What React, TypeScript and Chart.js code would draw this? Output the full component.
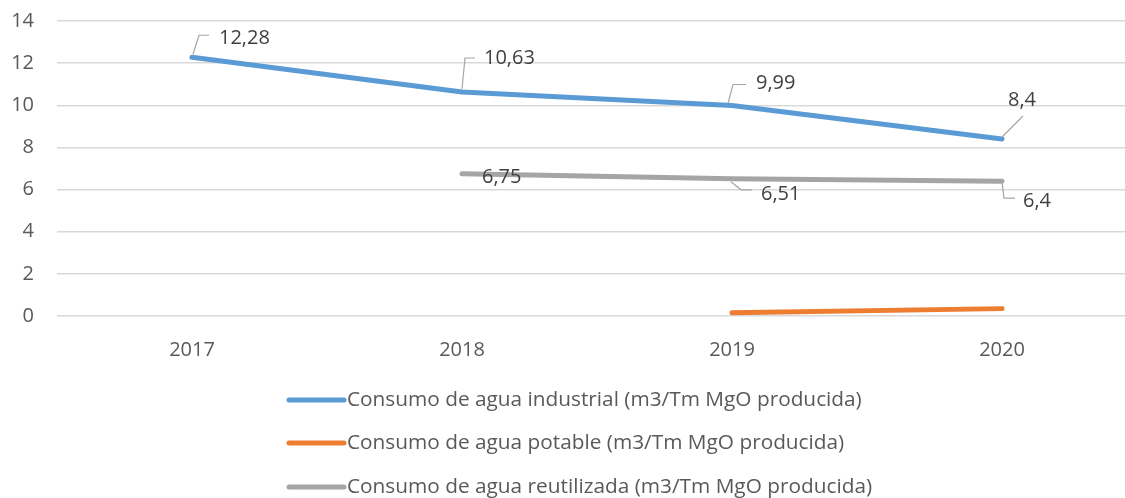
import React, { useEffect, useRef } from "react";
import { Chart, registerables } from "chart.js";

Chart.register(...registerables);

const categories = ["2017", "2018", "2019", "2020"];
const industrial = [12.28, 10.63, 9.99, 8.4];
const potable = [null, null, 0.15, 0.35];
const reutilizada = [null, 6.75, 6.51, 6.4];
const seriesNames = [
  "Consumo de agua industrial (m3/Tm MgO producida)",
  "Consumo de agua potable (m3/Tm MgO producida)",
  "Consumo de agua reutilizada (m3/Tm MgO producida)",
];
const seriesColors = ["#5b9bd5", "#ed7d31", "#a5a5a5"];
const industrialLabels = ["12,28", "10,63", "9,99", "8,4"];
const reutilizadaLabels = [null, "6,75", "6,51", "6,4"];
const yTicks = [0, 2, 4, 6, 8, 10, 12, 14];

const FONT = "'Open Sans', 'Liberation Sans', Arial, sans-serif";

// label placement styles: [dataset, index, dx, dy, leader]
const labelPlacement: Array<[number, number, number, number, number[][]]> = [
  [0, 0, 27, -19, [[1, -3], [7, -22], [17, -22]]],
  [0, 1, 22, -34, [[0, -3], [3, -34], [13, -34]]],
  [0, 2, 24, -22, [[-4, -2], [1, -21], [14, -21]]],
  [0, 3, 6, -39, [[0, -2], [21, -23]]],
  [2, 1, 20, 4, []],
  [2, 2, 29, 15, [[-1, 3], [9, 11], [20, 11]]],
  [2, 3, 21, 20, [[0, 1], [2, 17], [13, 17]]],
];

const labelPlugin = {
  id: "dataLabels",
  afterDatasetsDraw(chart: any) {
    const ctx = chart.ctx;
    const texts = [industrialLabels, potable.map(() => null), reutilizadaLabels];
    ctx.save();
    for (const [ds, i, dx, dy, leader] of labelPlacement) {
      const el = chart.getDatasetMeta(ds).data[i];
      const t = texts[ds][i];
      if (!el || !t) continue;
      const x = el.x, y = el.y;
      if (leader.length) {
        ctx.beginPath();
        ctx.strokeStyle = "#a6a6a6";
        ctx.lineWidth = 1.2;
        leader.forEach((p, k) => {
          if (k === 0) ctx.moveTo(x + p[0], y + p[1]);
          else ctx.lineTo(x + p[0], y + p[1]);
        });
        ctx.stroke();
      }
      ctx.fillStyle = "#404040";
      ctx.font = `20px ${FONT}`;
      ctx.textAlign = "left";
      ctx.textBaseline = "middle";
      ctx.fillText(t, x + dx, y + dy);
    }
    ctx.restore();
  },
};

const legendPlugin = {
  id: "customLegend",
  afterDraw(chart: any) {
    const ctx = chart.ctx;
    ctx.save();
    const rows = [400, 443, 487];
    seriesNames.forEach((name, i) => {
      const y = rows[i];
      ctx.strokeStyle = seriesColors[i];
      ctx.lineWidth = 5;
      ctx.lineCap = "round";
      ctx.beginPath();
      ctx.moveTo(289, y);
      ctx.lineTo(344, y);
      ctx.stroke();
      ctx.fillStyle = "#595959";
      ctx.font = `20.8px ${FONT}`;
      ctx.textAlign = "left";
      ctx.textBaseline = "middle";
      ctx.fillText(name, 347, y);
    });
    ctx.restore();
  },
};

export default function App() {
  const ref = useRef<HTMLCanvasElement>(null);
  useEffect(() => {
    if (!ref.current) return;
    const chart = new Chart(ref.current, {
      type: "line",
      data: {
        labels: categories,
        datasets: [
          { label: seriesNames[0], data: industrial, borderColor: seriesColors[0], backgroundColor: seriesColors[0] },
          { label: seriesNames[1], data: potable, borderColor: seriesColors[1], backgroundColor: seriesColors[1] },
          { label: seriesNames[2], data: reutilizada, borderColor: seriesColors[2], backgroundColor: seriesColors[2] },
        ].map((d) => ({
          ...d,
          borderWidth: 5,
          pointRadius: 0,
          borderCapStyle: "round" as const,
          borderJoinStyle: "round" as const,
          tension: 0,
          spanGaps: false,
        })),
      },
      options: {
        responsive: false,
        animation: false,
        layout: { padding: { top: 21, bottom: 122, right: 3, left: 0 } },
        plugins: { legend: { display: false }, tooltip: { enabled: false } },
        scales: {
          x: {
            offset: true,
            grid: { display: false },
            border: { display: false },
            ticks: { color: "#595959", font: { family: FONT, size: 20 }, padding: 14 },
            afterFit: (s: any) => {
              s.paddingLeft = 0;
              s.paddingRight = 0;
            },
          },
          y: {
            min: 0,
            max: 14,
            afterBuildTicks: (s: any) => {
              s.ticks = yTicks.map((v) => ({ value: v }));
            },
            afterFit: (s: any) => {
              s.width = 57;
              s.paddingTop = 0;
              s.paddingBottom = 0;
            },
            grid: { color: "#d9d9d9", lineWidth: 1.5, drawTicks: false },
            border: { display: false },
            ticks: { color: "#595959", font: { family: FONT, size: 20 }, padding: 23 },
          },
        },
      },
      plugins: [labelPlugin, legendPlugin],
    });
    return () => chart.destroy();
  }, []);
  return (
    <div style={{ position: "fixed", left: 0, top: 0, width: 1125, height: 498, overflow: "hidden", background: "#fff" }}>
      <canvas ref={ref} width={1140} height={498} style={{ display: "block" }} />
    </div>
  );
}
